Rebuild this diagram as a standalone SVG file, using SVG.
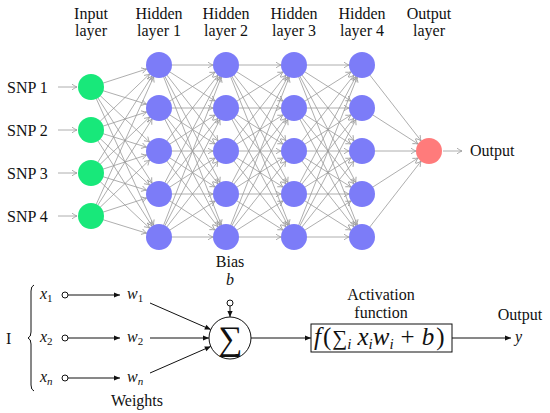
<svg xmlns="http://www.w3.org/2000/svg" width="550" height="413" viewBox="0 0 550 413" font-family="'Liberation Serif', serif">
<style>
text{font-family:'Liberation Serif',serif;fill:#111}
.h{font-size:16px;text-anchor:middle}
.l{font-size:16px}
.it{font-style:italic}
.e{stroke:#999;stroke-width:0.8;fill:none;marker-end:url(#ga)}
.b{stroke:#111;stroke-width:1;fill:none}
.ba{stroke:#111;stroke-width:1;fill:none;marker-end:url(#ba)}
.in{fill:#18E87A}
.hd{fill:#7C7CF8}
.out{fill:#FF7B7B}
.oc{fill:#fff;stroke:#111;stroke-width:1}
</style>
<defs>
<marker id="ga" markerUnits="userSpaceOnUse" viewBox="-20 -5 40 10" markerWidth="40" markerHeight="10" refX="13" refY="0" orient="auto" overflow="visible">
<path d="M -5 -2.8 Q -1.8 -0.6 0 0 Q -1.8 0.6 -5 2.8" stroke="#999" stroke-width="0.8" fill="none"/>
</marker>
<marker id="gs" markerUnits="userSpaceOnUse" viewBox="-10 -5 20 10" markerWidth="20" markerHeight="10" refX="0" refY="0" orient="auto" overflow="visible">
<path d="M -5 -2.8 Q -1.8 -0.6 0 0 Q -1.8 0.6 -5 2.8" stroke="#999" stroke-width="0.8" fill="none"/>
</marker>
<marker id="ba" markerUnits="userSpaceOnUse" viewBox="-10 -5 20 10" markerWidth="20" markerHeight="10" refX="0" refY="0" orient="auto" overflow="visible">
<path d="M -6 -2.6 L 0 0 L -6 2.6 Z" fill="#111"/>
</marker>
</defs>

<g id="headers">
<text class="h" x="91" y="19">Input</text><text class="h" x="91" y="36">layer</text>
<text class="h" x="159" y="19">Hidden</text><text class="h" x="159" y="36">layer 1</text>
<text class="h" x="226" y="19">Hidden</text><text class="h" x="226" y="36">layer 2</text>
<text class="h" x="294" y="19">Hidden</text><text class="h" x="294" y="36">layer 3</text>
<text class="h" x="362" y="19">Hidden</text><text class="h" x="362" y="36">layer 4</text>
<text class="h" x="429" y="19">Output</text><text class="h" x="429" y="36">layer</text>
</g>

<g id="connectors">
<line class="e" x1="91" y1="87" x2="159" y2="65"/><line class="e" x1="91" y1="87" x2="159" y2="108"/><line class="e" x1="91" y1="87" x2="159" y2="151"/><line class="e" x1="91" y1="87" x2="159" y2="194"/><line class="e" x1="91" y1="87" x2="159" y2="237"/>
<line class="e" x1="91" y1="130" x2="159" y2="65"/><line class="e" x1="91" y1="130" x2="159" y2="108"/><line class="e" x1="91" y1="130" x2="159" y2="151"/><line class="e" x1="91" y1="130" x2="159" y2="194"/><line class="e" x1="91" y1="130" x2="159" y2="237"/>
<line class="e" x1="91" y1="173" x2="159" y2="65"/><line class="e" x1="91" y1="173" x2="159" y2="108"/><line class="e" x1="91" y1="173" x2="159" y2="151"/><line class="e" x1="91" y1="173" x2="159" y2="194"/><line class="e" x1="91" y1="173" x2="159" y2="237"/>
<line class="e" x1="91" y1="216" x2="159" y2="65"/><line class="e" x1="91" y1="216" x2="159" y2="108"/><line class="e" x1="91" y1="216" x2="159" y2="151"/><line class="e" x1="91" y1="216" x2="159" y2="194"/><line class="e" x1="91" y1="216" x2="159" y2="237"/>

<line class="e" x1="159" y1="65" x2="226" y2="65"/><line class="e" x1="159" y1="65" x2="226" y2="108"/><line class="e" x1="159" y1="65" x2="226" y2="151"/><line class="e" x1="159" y1="65" x2="226" y2="194"/><line class="e" x1="159" y1="65" x2="226" y2="237"/>
<line class="e" x1="159" y1="108" x2="226" y2="65"/><line class="e" x1="159" y1="108" x2="226" y2="108"/><line class="e" x1="159" y1="108" x2="226" y2="151"/><line class="e" x1="159" y1="108" x2="226" y2="194"/><line class="e" x1="159" y1="108" x2="226" y2="237"/>
<line class="e" x1="159" y1="151" x2="226" y2="65"/><line class="e" x1="159" y1="151" x2="226" y2="108"/><line class="e" x1="159" y1="151" x2="226" y2="151"/><line class="e" x1="159" y1="151" x2="226" y2="194"/><line class="e" x1="159" y1="151" x2="226" y2="237"/>
<line class="e" x1="159" y1="194" x2="226" y2="65"/><line class="e" x1="159" y1="194" x2="226" y2="108"/><line class="e" x1="159" y1="194" x2="226" y2="151"/><line class="e" x1="159" y1="194" x2="226" y2="194"/><line class="e" x1="159" y1="194" x2="226" y2="237"/>
<line class="e" x1="159" y1="237" x2="226" y2="65"/><line class="e" x1="159" y1="237" x2="226" y2="108"/><line class="e" x1="159" y1="237" x2="226" y2="151"/><line class="e" x1="159" y1="237" x2="226" y2="194"/><line class="e" x1="159" y1="237" x2="226" y2="237"/>

<line class="e" x1="226" y1="65" x2="294" y2="65"/><line class="e" x1="226" y1="65" x2="294" y2="108"/><line class="e" x1="226" y1="65" x2="294" y2="151"/><line class="e" x1="226" y1="65" x2="294" y2="194"/><line class="e" x1="226" y1="65" x2="294" y2="237"/>
<line class="e" x1="226" y1="108" x2="294" y2="65"/><line class="e" x1="226" y1="108" x2="294" y2="108"/><line class="e" x1="226" y1="108" x2="294" y2="151"/><line class="e" x1="226" y1="108" x2="294" y2="194"/><line class="e" x1="226" y1="108" x2="294" y2="237"/>
<line class="e" x1="226" y1="151" x2="294" y2="65"/><line class="e" x1="226" y1="151" x2="294" y2="108"/><line class="e" x1="226" y1="151" x2="294" y2="151"/><line class="e" x1="226" y1="151" x2="294" y2="194"/><line class="e" x1="226" y1="151" x2="294" y2="237"/>
<line class="e" x1="226" y1="194" x2="294" y2="65"/><line class="e" x1="226" y1="194" x2="294" y2="108"/><line class="e" x1="226" y1="194" x2="294" y2="151"/><line class="e" x1="226" y1="194" x2="294" y2="194"/><line class="e" x1="226" y1="194" x2="294" y2="237"/>
<line class="e" x1="226" y1="237" x2="294" y2="65"/><line class="e" x1="226" y1="237" x2="294" y2="108"/><line class="e" x1="226" y1="237" x2="294" y2="151"/><line class="e" x1="226" y1="237" x2="294" y2="194"/><line class="e" x1="226" y1="237" x2="294" y2="237"/>

<line class="e" x1="294" y1="65" x2="362" y2="65"/><line class="e" x1="294" y1="65" x2="362" y2="108"/><line class="e" x1="294" y1="65" x2="362" y2="151"/><line class="e" x1="294" y1="65" x2="362" y2="194"/><line class="e" x1="294" y1="65" x2="362" y2="237"/>
<line class="e" x1="294" y1="108" x2="362" y2="65"/><line class="e" x1="294" y1="108" x2="362" y2="108"/><line class="e" x1="294" y1="108" x2="362" y2="151"/><line class="e" x1="294" y1="108" x2="362" y2="194"/><line class="e" x1="294" y1="108" x2="362" y2="237"/>
<line class="e" x1="294" y1="151" x2="362" y2="65"/><line class="e" x1="294" y1="151" x2="362" y2="108"/><line class="e" x1="294" y1="151" x2="362" y2="151"/><line class="e" x1="294" y1="151" x2="362" y2="194"/><line class="e" x1="294" y1="151" x2="362" y2="237"/>
<line class="e" x1="294" y1="194" x2="362" y2="65"/><line class="e" x1="294" y1="194" x2="362" y2="108"/><line class="e" x1="294" y1="194" x2="362" y2="151"/><line class="e" x1="294" y1="194" x2="362" y2="194"/><line class="e" x1="294" y1="194" x2="362" y2="237"/>
<line class="e" x1="294" y1="237" x2="362" y2="65"/><line class="e" x1="294" y1="237" x2="362" y2="108"/><line class="e" x1="294" y1="237" x2="362" y2="151"/><line class="e" x1="294" y1="237" x2="362" y2="194"/><line class="e" x1="294" y1="237" x2="362" y2="237"/>

<line class="e" x1="362" y1="65" x2="429" y2="151"/><line class="e" x1="362" y1="108" x2="429" y2="151"/><line class="e" x1="362" y1="151" x2="429" y2="151"/><line class="e" x1="362" y1="194" x2="429" y2="151"/><line class="e" x1="362" y1="237" x2="429" y2="151"/>

<line x1="58" y1="87" x2="77" y2="87" stroke="#999" stroke-width="0.8" marker-end="url(#gs)"/>
<line x1="58" y1="130" x2="77" y2="130" stroke="#999" stroke-width="0.8" marker-end="url(#gs)"/>
<line x1="58" y1="173" x2="77" y2="173" stroke="#999" stroke-width="0.8" marker-end="url(#gs)"/>
<line x1="58" y1="216" x2="77" y2="216" stroke="#999" stroke-width="0.8" marker-end="url(#gs)"/>
<line x1="443" y1="151" x2="462" y2="151" stroke="#999" stroke-width="0.8" marker-end="url(#gs)"/>

<line class="ba" x1="68" y1="295" x2="120" y2="295"/>
<line class="ba" x1="68" y1="338" x2="120" y2="338"/>
<line class="ba" x1="68" y1="378" x2="120" y2="378"/>
<line class="ba" x1="150" y1="303" x2="210.8" y2="329.6"/>
<line class="ba" x1="150" y1="338" x2="209" y2="338"/>
<line class="ba" x1="150" y1="373" x2="210.8" y2="346.4"/>
<line class="ba" x1="230" y1="306" x2="230" y2="317"/>
<line class="ba" x1="251" y1="338" x2="311" y2="338"/>
<line class="ba" x1="452" y1="338" x2="511" y2="338"/>
</g>

<g id="snp-labels">
<text class="l" x="7" y="93">SNP 1</text>
<text class="l" x="7" y="136">SNP 2</text>
<text class="l" x="7" y="179">SNP 3</text>
<text class="l" x="7" y="222">SNP 4</text>
</g>

<g id="input-1"><circle class="in" cx="91" cy="87" r="13"/></g>
<g id="input-2"><circle class="in" cx="91" cy="130" r="13"/></g>
<g id="input-3"><circle class="in" cx="91" cy="173" r="13"/></g>
<g id="input-4"><circle class="in" cx="91" cy="216" r="13"/></g>

<g id="h1-1"><circle class="hd" cx="159" cy="65" r="13"/></g>
<g id="h1-2"><circle class="hd" cx="159" cy="108" r="13"/></g>
<g id="h1-3"><circle class="hd" cx="159" cy="151" r="13"/></g>
<g id="h1-4"><circle class="hd" cx="159" cy="194" r="13"/></g>
<g id="h1-5"><circle class="hd" cx="159" cy="237" r="13"/></g>

<g id="h2-1"><circle class="hd" cx="226" cy="65" r="13"/></g>
<g id="h2-2"><circle class="hd" cx="226" cy="108" r="13"/></g>
<g id="h2-3"><circle class="hd" cx="226" cy="151" r="13"/></g>
<g id="h2-4"><circle class="hd" cx="226" cy="194" r="13"/></g>
<g id="h2-5"><circle class="hd" cx="226" cy="237" r="13"/></g>

<g id="h3-1"><circle class="hd" cx="294" cy="65" r="13"/></g>
<g id="h3-2"><circle class="hd" cx="294" cy="108" r="13"/></g>
<g id="h3-3"><circle class="hd" cx="294" cy="151" r="13"/></g>
<g id="h3-4"><circle class="hd" cx="294" cy="194" r="13"/></g>
<g id="h3-5"><circle class="hd" cx="294" cy="237" r="13"/></g>

<g id="h4-1"><circle class="hd" cx="362" cy="65" r="13"/></g>
<g id="h4-2"><circle class="hd" cx="362" cy="108" r="13"/></g>
<g id="h4-3"><circle class="hd" cx="362" cy="151" r="13"/></g>
<g id="h4-4"><circle class="hd" cx="362" cy="194" r="13"/></g>
<g id="h4-5"><circle class="hd" cx="362" cy="237" r="13"/></g>

<g id="output-node"><circle class="out" cx="429" cy="151" r="13"/><text class="l" x="470" y="156">Output</text></g>

<g id="perceptron-inputs">
<text class="l" x="6" y="344">I</text>
<path class="b" d="M34 285 Q31 286 31 291 L31 332 Q31 337 28 338 Q31 339 31 344 L31 385 Q31 390 34 391"/>
<text class="l it" x="40" y="299">x<tspan font-size="11" font-style="normal" dy="3">1</tspan></text>
<text class="l it" x="40" y="342">x<tspan font-size="11" font-style="normal" dy="3">2</tspan></text>
<text class="l it" x="40" y="382">x<tspan font-size="11" dy="3">n</tspan></text>
<circle class="oc" cx="65" cy="295" r="3"/>
<circle class="oc" cx="65" cy="338" r="3"/>
<circle class="oc" cx="65" cy="378" r="3"/>
</g>

<g id="weights">
<text class="l it" x="127" y="299">w<tspan font-size="11" font-style="normal" dy="3">1</tspan></text>
<text class="l it" x="127" y="342">w<tspan font-size="11" font-style="normal" dy="3">2</tspan></text>
<text class="l it" x="127" y="382">w<tspan font-size="11" dy="3">n</tspan></text>
<text class="h" x="137" y="406">Weights</text>
</g>

<g id="bias">
<text class="h" x="230" y="267">Bias</text>
<text class="h it" x="230" y="285">b</text>
<circle class="oc" cx="230" cy="303" r="3"/>
</g>

<g id="sum-node">
<circle class="oc" cx="230" cy="338" r="21"/>
<text x="230" y="350" font-size="34" text-anchor="middle">∑</text>
</g>

<g id="activation">
<text class="h" x="381" y="300">Activation</text>
<text class="h" x="381" y="318">function</text>
<rect x="311" y="324" width="141" height="28" fill="#fff" stroke="#111" stroke-width="1"/>
<text x="314" y="345" font-size="25"><tspan font-style="italic">f</tspan><tspan dx="2">(</tspan><tspan font-size="21" dx="1">∑</tspan><tspan font-style="italic" font-size="15" dy="4">i</tspan><tspan font-style="italic" dx="6" dy="-4">x</tspan><tspan font-style="italic" font-size="15" dy="4">i</tspan><tspan font-style="italic" dy="-4">w</tspan><tspan font-style="italic" font-size="15" dy="4">i</tspan><tspan dy="-4" dx="7">+</tspan><tspan font-style="italic" dx="7">b</tspan><tspan dx="2">)</tspan></text>
</g>

<g id="output-y">
<text class="h" x="520" y="320">Output</text>
<text class="l it" x="515" y="342">y</text>
</g>
</svg>
